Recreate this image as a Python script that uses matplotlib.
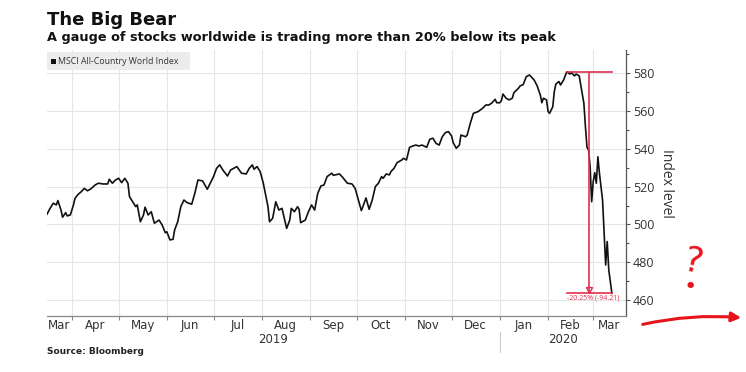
import pandas as pd
import numpy as np
import matplotlib
matplotlib.use("Agg")
import matplotlib.pyplot as plt
import matplotlib.transforms as mtransforms
from matplotlib.ticker import MultipleLocator

# === Data ===
dates = [
    "2019-03-16", "2019-03-18", "2019-03-20", "2019-03-22", "2019-03-23", "2019-03-25", "2019-03-26",
    "2019-03-28", "2019-03-29", "2019-03-31", "2019-04-02", "2019-04-03", "2019-04-05", "2019-04-07",
    "2019-04-09", "2019-04-11", "2019-04-13", "2019-04-16", "2019-04-18", "2019-04-21", "2019-04-24",
    "2019-04-25", "2019-04-27", "2019-04-29", "2019-05-01", "2019-05-03", "2019-05-05", "2019-05-07",
    "2019-05-08", "2019-05-10", "2019-05-12", "2019-05-13", "2019-05-15", "2019-05-17", "2019-05-18",
    "2019-05-20", "2019-05-22", "2019-05-24", "2019-05-27", "2019-05-29", "2019-05-31", "2019-06-01",
    "2019-06-03", "2019-06-05", "2019-06-06", "2019-06-08", "2019-06-10", "2019-06-12", "2019-06-14",
    "2019-06-17", "2019-06-19", "2019-06-21", "2019-06-24", "2019-06-26", "2019-06-27", "2019-07-01",
    "2019-07-03", "2019-07-05", "2019-07-07", "2019-07-10", "2019-07-12", "2019-07-16", "2019-07-19",
    "2019-07-22", "2019-07-24", "2019-07-26", "2019-07-27", "2019-07-29", "2019-07-31", "2019-08-02",
    "2019-08-05", "2019-08-06", "2019-08-08", "2019-08-10", "2019-08-12", "2019-08-14", "2019-08-15",
    "2019-08-17", "2019-08-19", "2019-08-20", "2019-08-22", "2019-08-24", "2019-08-25", "2019-08-26",
    "2019-08-29", "2019-08-31", "2019-09-02", "2019-09-04", "2019-09-06", "2019-09-08", "2019-09-10",
    "2019-09-12", "2019-09-15", "2019-09-16", "2019-09-20", "2019-09-22", "2019-09-25", "2019-09-28",
    "2019-09-30", "2019-10-02", "2019-10-04", "2019-10-05", "2019-10-07", "2019-10-09", "2019-10-11",
    "2019-10-13", "2019-10-15", "2019-10-17", "2019-10-18", "2019-10-20", "2019-10-22", "2019-10-23",
    "2019-10-25", "2019-10-27", "2019-10-30", "2019-10-31", "2019-11-02", "2019-11-04", "2019-11-06",
    "2019-11-08", "2019-11-10", "2019-11-12", "2019-11-15", "2019-11-17", "2019-11-19", "2019-11-21",
    "2019-11-23", "2019-11-25", "2019-11-27", "2019-11-29", "2019-12-01", "2019-12-02", "2019-12-04",
    "2019-12-06", "2019-12-07", "2019-12-10", "2019-12-11", "2019-12-13", "2019-12-15", "2019-12-18",
    "2019-12-21", "2019-12-23", "2019-12-25", "2019-12-27", "2019-12-29", "2019-12-30", "2020-01-01",
    "2020-01-02", "2020-01-03", "2020-01-05", "2020-01-07", "2020-01-09", "2020-01-10", "2020-01-13",
    "2020-01-14", "2020-01-16", "2020-01-18", "2020-01-20", "2020-01-22", "2020-01-23", "2020-01-25",
    "2020-01-27", "2020-01-28", "2020-01-29", "2020-01-31", "2020-02-01", "2020-02-02", "2020-02-04",
    "2020-02-05", "2020-02-06", "2020-02-08", "2020-02-09", "2020-02-11", "2020-02-13", "2020-02-15",
    "2020-02-16", "2020-02-18", "2020-02-19", "2020-02-21", "2020-02-22", "2020-02-24", "2020-02-25",
    "2020-02-26", "2020-02-27", "2020-02-28", "2020-02-29", "2020-03-01", "2020-03-02", "2020-03-03",
    "2020-03-04", "2020-03-05", "2020-03-07", "2020-03-08", "2020-03-09", "2020-03-10", "2020-03-11",
    "2020-03-13",
]
values = [
    505.4, 508.5, 511.2, 510.3, 512.6, 507.6, 503.8,
    506.2, 504.5, 505.0, 510.3, 513.8, 515.9, 517.3,
    519.1, 517.8, 518.7, 520.9, 521.8, 521.4, 521.4,
    523.9, 521.8, 523.5, 524.4, 522.1, 524.4, 521.8,
    514.7, 512.0, 509.4, 510.3, 501.4, 505.0, 509.1,
    505.0, 506.7, 500.6, 502.3, 499.7, 495.6, 496.1,
    491.8, 492.1, 497.0, 501.4, 509.4, 512.9, 511.5,
    510.7, 516.5, 523.5, 523.0, 520.0, 518.6, 525.3,
    529.7, 531.5, 528.8, 525.6, 528.8, 530.6, 527.1,
    526.7, 529.7, 531.5, 529.2, 530.6, 527.9, 521.8,
    509.4, 501.4, 503.2, 512.0, 507.6, 508.5, 505.0,
    497.9, 502.3, 508.5, 506.7, 509.4, 508.0, 500.9,
    502.3, 506.7, 510.3, 507.6, 516.5, 520.3, 520.9,
    525.3, 527.1, 526.0, 526.7, 524.9, 521.8, 521.4,
    519.1, 513.3, 507.3, 509.4, 514.0, 508.0, 512.9,
    520.0, 521.8, 525.3, 524.4, 526.7, 526.2, 527.9,
    529.7, 532.7, 534.1, 535.0, 534.1, 540.8, 541.5,
    542.0, 541.5, 542.0, 540.8, 545.1, 545.6, 542.9,
    542.0, 546.4, 548.6, 549.1, 546.8, 543.3, 540.3,
    542.0, 547.3, 546.4, 547.3, 553.5, 558.8, 559.7,
    561.5, 563.2, 563.2, 564.4, 566.2, 564.4, 564.4,
    565.5, 569.0, 566.8, 565.9, 566.8, 569.7, 572.1,
    573.3, 574.0, 578.2, 579.1, 577.4, 576.5, 573.3,
    568.5, 564.4, 566.8, 565.9, 559.7, 558.8, 562.3,
    570.3, 574.3, 575.6, 573.8, 576.5, 580.8, 579.6,
    580.3, 578.6, 579.6, 578.6, 573.8, 564.1, 551.7,
    540.8, 539.4, 530.6, 512.0, 522.6, 527.4, 521.8,
    535.8, 527.1, 512.9, 495.3, 478.5, 490.9, 475.9,
    463.5,
]
months = ["Mar", "Apr", "May", "Jun", "Jul", "Aug", "Sep", "Oct", "Nov", "Dec", "Jan", "Feb", "Mar"]
years = ["2019", "2020"]
drop_label = "-20.25% (-94.21)"

x = pd.to_datetime(dates)
y = np.array(values)

x_min = pd.Timestamp("2019-03-16")
x_max = pd.Timestamp("2020-03-22")

red = "#e0304e"
grid_col = "#e6e6e6"
txt_col = "#333333"
narrow = ["Liberation Sans Narrow", "DejaVu Sans"]

# === Figure ===
fig = plt.figure(figsize=(7.46, 3.72), dpi=100)
ax = fig.add_axes([0.063, 0.1505, 0.776, 0.715])

ax.plot(x, y, color="#111111", lw=1.2, zorder=3)

ax.set_xlim(x_min, x_max)
ax.set_ylim(451.5, 592.3)

# y axis on the right
ax.yaxis.tick_right()
ax.yaxis.set_label_position("right")
ax.yaxis.set_minor_locator(MultipleLocator(10))
ax.set_yticks(range(460, 581, 20))
ax.set_ylabel("Index level", rotation=270, labelpad=14, fontsize=10, color=txt_col,
              family=["Open Sans", "DejaVu Sans"])
ax.tick_params(axis="y", which="major", length=3, width=0.8, colors="#555555",
               labelcolor=txt_col, labelsize=9, pad=2)
ax.tick_params(axis="y", which="minor", length=2, width=0.8, colors="#555555")
for lab in ax.get_yticklabels():
    lab.set_family(["Open Sans", "DejaVu Sans"])

# x axis: ticks at month starts, labels in the middle of each visible month
month_starts = pd.date_range("2019-04-01", "2020-03-01", freq="MS")
ax.set_xticks(month_starts)
ax.set_xticklabels([])
ax.tick_params(axis="x", which="major", length=3, width=0.8, colors="#888888")
trans = mtransforms.blended_transform_factory(ax.transData, ax.transAxes)
edges = [x_min] + list(month_starts) + [x_max]
for i, m in enumerate(months):
    mid = edges[i] + (edges[i + 1] - edges[i]) / 2
    ax.text(mid, -0.012, m, transform=trans, ha="center", va="top", fontsize=8.5,
            color=txt_col, family=narrow)

jan1 = pd.Timestamp("2020-01-01")
year_edges = [x_min, jan1, x_max]
for i, yr in enumerate(years):
    mid = year_edges[i] + (year_edges[i + 1] - year_edges[i]) / 2
    ax.text(mid, -0.064, yr, transform=trans, ha="center", va="top", fontsize=8.5,
            color=txt_col, family=narrow)
ax.plot([jan1, jan1], [-0.06, -0.135], transform=trans, color="#cccccc", lw=0.8, clip_on=False)

# grid
ax.grid(True, which="major", color=grid_col, lw=0.8, zorder=0)
ax.set_axisbelow(True)

for side in ["left", "top"]:
    ax.spines[side].set_visible(False)
ax.spines["right"].set_color("#555555")
ax.spines["bottom"].set_color("#888888")
ax.spines["right"].set_linewidth(0.9)
ax.spines["bottom"].set_linewidth(0.9)

# red drawdown measure
i_peak = int(np.argmax(y))
peak_d, peak_v = x[i_peak], y[i_peak]
end_d, end_v = x[-1], y[-1]
mid_d = peak_d + (end_d - peak_d) / 2
ax.plot([peak_d, end_d], [peak_v, peak_v], color=red, lw=1.2, zorder=4)
ax.plot([peak_d, end_d], [end_v, end_v], color=red, lw=1.2, zorder=4)
ax.plot([mid_d, mid_d], [peak_v, end_v + 1.5], color=red, lw=1.2, zorder=4)
ax.plot([mid_d], [end_v + 2.0], marker="v", ms=5, mfc="none", mec=red, mew=1.0, zorder=4)
ax.text(peak_d, end_v - 0.6, drop_label, color=red, fontsize=5, ha="left", va="top",
        family=["Open Sans", "DejaVu Sans"], zorder=5)

# legend box
fig.patches.append(plt.Rectangle((47 / 746, 1 - 70 / 372), 143 / 746, 18 / 372,
                                 transform=fig.transFigure, facecolor="#ececec",
                                 edgecolor="none", zorder=5))
fig.patches.append(plt.Rectangle((51 / 746, 1 - 64 / 372), 5 / 746, 5 / 372,
                                 transform=fig.transFigure, facecolor="#111111",
                                 edgecolor="none", zorder=6))
fig.text(58 / 746, 1 - 61 / 372, "MSCI All-Country World Index", fontsize=6.3, color="#333333",
         va="center", ha="left", family=["Open Sans", "DejaVu Sans"], zorder=7)

# titles and source
fig.text(47 / 746, 1 - 20 / 372, "The Big Bear", fontsize=13, fontweight="bold", va="center",
         ha="left", color="#111111")
fig.text(47 / 746, 1 - 38 / 372, "A gauge of stocks worldwide is trading more than 20% below its peak",
         fontsize=9.3, fontweight="bold", va="center", ha="left", color="#111111")
fig.text(47 / 746, 1 - 351 / 372, "Source: Bloomberg", fontsize=6.5, fontweight="bold",
         va="center", ha="left", color="#222222")

# hand-drawn red marks in the margin
fig.text(693 / 746, 1 - 262 / 372, "?", fontsize=26, color="#e8141c", rotation=-12,
         ha="center", va="center", family=["DejaVu Sans"])
fig.text(690 / 746, 1 - 284 / 372, "\u25cf", fontsize=6, color="#e8141c", ha="center", va="center")
ax.annotate("", xy=(744 / 746, 1 - 318 / 372), xytext=(640 / 746, 1 - 325 / 372),
            xycoords="figure fraction", textcoords="figure fraction",
            arrowprops=dict(arrowstyle="-|>", color="#e8141c", lw=2.2, mutation_scale=14,
                            connectionstyle="arc3,rad=-0.08"))

fig.savefig("out.png", dpi=100)
